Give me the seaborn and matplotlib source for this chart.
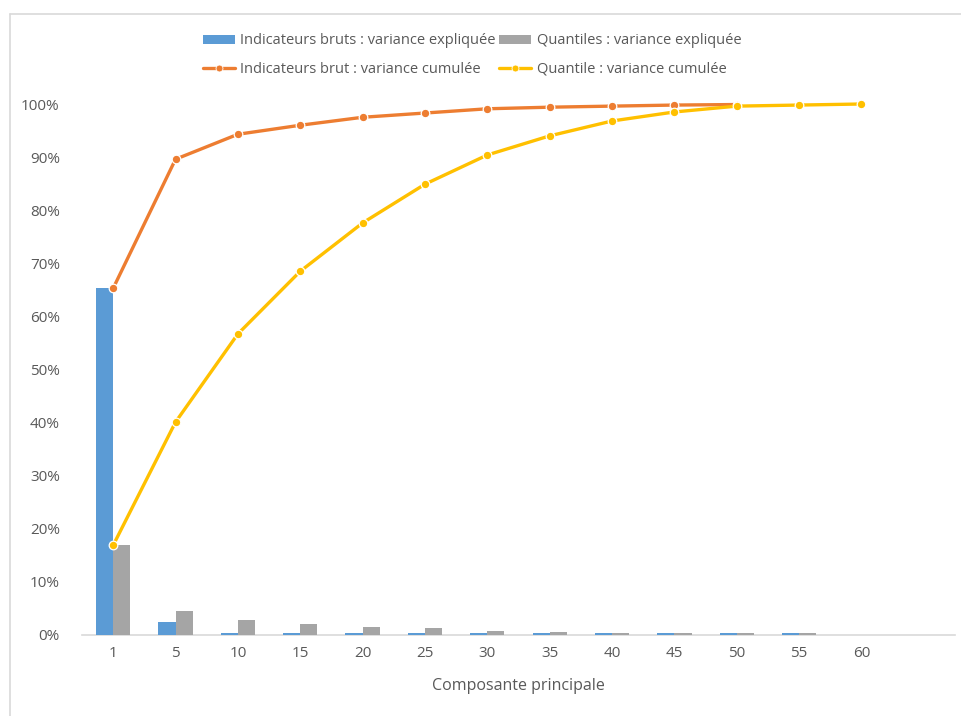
import numpy as np
import pandas as pd
import seaborn as sns
import matplotlib.pyplot as plt
from matplotlib.patches import Patch
from matplotlib.lines import Line2D

# Principal components shown on the axis
composantes = [1, 5, 10, 15, 20, 25, 30, 35, 40, 45, 50, 55, 60]

# Explained variance per component
bruts_expliquee = [0.653, 0.025, 0.0045, 0.003, 0.003, 0.003, 0.003, 0.003,
                   0.003, 0.003, 0.003, 0.003, np.nan]
quantiles_expliquee = [0.169, 0.046, 0.028, 0.020, 0.015, 0.0125, 0.0075, 0.005,
                       0.003, 0.003, 0.003, 0.003, np.nan]

# Cumulative variance
bruts_cumulee = [0.653, 0.896, 0.943, 0.960, 0.975, 0.983, 0.991, 0.994,
                 0.996, 0.998, 0.999]
quantiles_cumulee = [0.169, 0.401, 0.567, 0.685, 0.776, 0.849, 0.904, 0.940,
                     0.968, 0.985, 0.996, 0.998, 1.0]

lab_b_expl = "Indicateurs bruts : variance expliquée"
lab_q_expl = "Quantiles : variance expliquée"
lab_b_cum = "Indicateurs brut : variance cumulée"
lab_q_cum = "Quantile : variance cumulée"

BLUE, GRAY, ORANGE, YELLOW = "#5B9BD5", "#A5A5A5", "#ED7D31", "#FFC000"
TXT = "#595959"

sns.set_theme(style="white")
plt.rcParams["font.family"] = ["Open Sans", "DejaVu Sans"]

bars = pd.DataFrame({
    "Composante": [str(c) for c in composantes] * 2,
    "Variance": bruts_expliquee + quantiles_expliquee,
    "Série": [lab_b_expl] * len(composantes) + [lab_q_expl] * len(composantes),
})

fig = plt.figure(figsize=(9.61, 7.16), dpi=100)
ax = fig.add_axes([82 / 961, 1 - 635 / 716, (955 - 82) / 961, (635 - 104) / 716])

sns.barplot(data=bars, x="Composante", y="Variance", hue="Série",
            order=[str(c) for c in composantes],
            palette=[BLUE, GRAY], saturation=1, width=0.55, gap=0, linewidth=0,
            legend=False, ax=ax)

pos_b = np.arange(len(bruts_cumulee))
pos_q = np.arange(len(quantiles_cumulee))
line_kw = dict(linewidth=2.4, marker="o", markersize=6.2,
               markeredgecolor="white", markeredgewidth=0.9, clip_on=False)
sns.lineplot(x=pos_b, y=bruts_cumulee, color=ORANGE, ax=ax, **line_kw)
sns.lineplot(x=pos_q, y=quantiles_cumulee, color=YELLOW, ax=ax, **line_kw)

ax.set_xlim(-0.5, 13.5)
ax.set_ylim(0, 1)
ax.set_yticks(np.arange(0, 1.01, 0.1))
ax.set_yticklabels([f"{int(round(v * 100))}%" for v in np.arange(0, 1.01, 0.1)])
for s in ["top", "right", "left"]:
    ax.spines[s].set_visible(False)
ax.spines["bottom"].set_color("#D9D9D9")
ax.spines["bottom"].set_linewidth(1.2)
ax.spines["bottom"].set_zorder(0.5)
ax.tick_params(axis="both", length=0, labelsize=11, colors=TXT)
ax.tick_params(axis="y", pad=16)
ax.tick_params(axis="x", pad=8)
ax.set_xlabel("Composante principale", fontsize=11.5, color=TXT, labelpad=12)
ax.set_ylabel("")

handles = [
    Patch(facecolor=BLUE, edgecolor="none", label=lab_b_expl),
    Line2D([0], [0], color=ORANGE, lw=2.4, marker="o", markersize=5,
           markeredgecolor="white", markeredgewidth=0.6, label=lab_b_cum),
    Patch(facecolor=GRAY, edgecolor="none", label=lab_q_expl),
    Line2D([0], [0], color=YELLOW, lw=2.4, marker="o", markersize=5,
           markeredgecolor="white", markeredgewidth=0.6, label=lab_q_cum),
]
fig.legend(handles=handles, ncol=2, loc="center", bbox_to_anchor=(472 / 961, 1 - 55 / 716),
           frameon=False, fontsize=10.5, labelcolor=TXT, handlelength=2.2,
           handleheight=0.6, handletextpad=0.4, columnspacing=0.2, labelspacing=0.9)

# Outer chart frame
fig.add_artist(Line2D([9.5 / 961, 1], [1 - 13.5 / 716] * 2, transform=fig.transFigure,
                      color="#D9D9D9", lw=1.2))
fig.add_artist(Line2D([9.5 / 961] * 2, [0, 1 - 13.5 / 716], transform=fig.transFigure,
                      color="#D9D9D9", lw=1.2))

fig.savefig("out.png", dpi=100, facecolor="white")
